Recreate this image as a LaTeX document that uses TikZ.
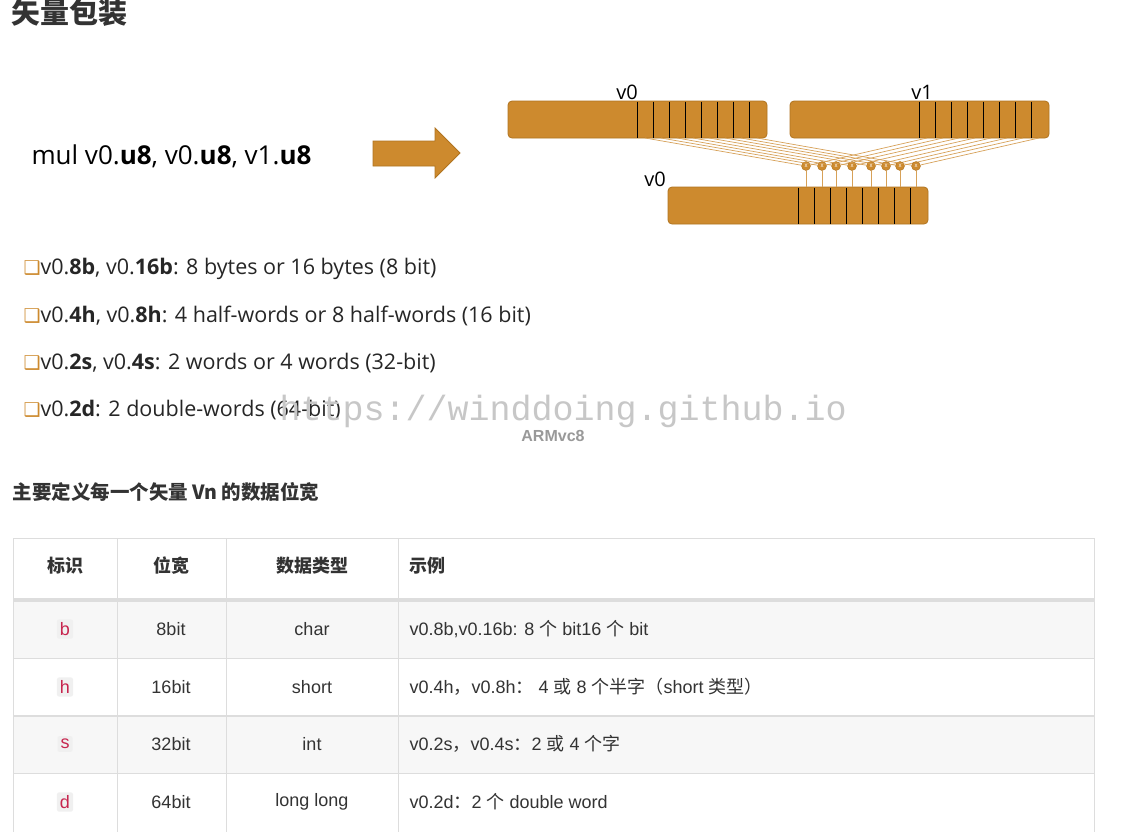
\documentclass[tikz,border=0pt]{standalone}
\usepackage{fontspec}
\setmainfont{Liberation Sans}
\newfontfamily\cjk{Noto Sans CJK SC}
\newfontfamily\carl{Open Sans}
\newfontfamily\djv{DejaVu Sans}
\newfontfamily\monof{Liberation Mono}
\definecolor{reg}{HTML}{CD8A2E}
\definecolor{regb}{HTML}{B07420}
\definecolor{tline}{HTML}{DDDDDD}
\definecolor{txt}{HTML}{333333}
\definecolor{codered}{HTML}{C7254E}
\tikzset{
 regbox/.style={draw=regb,fill=reg,rounded corners=4pt,line width=0.8pt},
 wire/.style={draw=reg!80!white,line width=0.7pt},
 mulc/.style={circle,draw=regb,fill=reg,inner sep=0pt,minimum size=9pt,font=\fontsize{6}{6}\selectfont,text=white},
 cell/.style={text=txt,font=\fontsize{18}{20}\selectfont},
 hcell/.style={text=txt,font=\cjk\bfseries\fontsize{18}{20}\selectfont},
 code/.style={fill=black!6,rounded corners=2pt,text=codered,inner sep=3pt,font=\fontsize{18}{20}\selectfont},
 bul/.style={anchor=west,font=\carl\fontsize{21.5}{26}\selectfont,text=black!85},
}
\begin{document}
\begin{tikzpicture}[x=1pt,y=-1pt]
\useasboundingbox (0,0) rectangle (1128,831);
\fill[white] (0,0) rectangle (1128,831);
% title
\node[anchor=west,font=\cjk\bfseries\fontsize{29}{32}\selectfont,text=txt] (title) at (8,13) {矢量包装};
\node[anchor=west,font=\carl\fontsize{26}{30}\selectfont] (mul) at (28,156) {mul v0.\textbf{u8}, v0.\textbf{u8}, v1.\textbf{u8}};
\draw[regb,fill=reg,line width=0.8pt] (373,141) -- (435,141) -- (435,128) -- (460,153) -- (435,178) -- (435,166) -- (373,166) -- cycle;
% registers
\draw[regbox] (508,101) rectangle (767,138);
\draw[regbox] (790,101) rectangle (1049,138);
\draw[regbox] (668,187) rectangle (928,224);
\foreach \i in {0,...,7}{
 \draw[black,line width=0.9pt] (637+16*\i,101.5) -- (637+16*\i,137.5);
 \draw[black,line width=0.9pt] (919+16*\i,101.5) -- (919+16*\i,137.5);
 \draw[black,line width=0.9pt] (798+16*\i,187.5) -- (798+16*\i,223.5);
}
\foreach \i/\cx in {0/806,1/822,2/836,3/852,4/871,5/886,6/900,7/916}{
 \coordinate (a\i) at (645+16*\i,138);
 \coordinate (b\i) at (927+16*\i,138);
 \coordinate (d\i) at (\cx,187);
 \node[mulc] (m\i) at (\cx,166) {x};
 \draw[wire] (a\i) -- (m\i);
 \draw[wire] (b\i) -- (m\i);
 \draw[wire] (m\i) -- (d\i);
}
\node[font=\carl\fontsize{20}{24}\selectfont,anchor=base] (l0) at (627,99) {v0};
\node[font=\carl\fontsize{20}{24}\selectfont,anchor=base] (l1) at (922,99) {v1};
\node[font=\carl\fontsize{20}{24}\selectfont,anchor=base] (l2) at (655,186) {v0};
% bullets
\foreach \y/\t in {269/{v0.\textbf{8b}, v0.\textbf{16b}: 8 bytes or 16 bytes (8 bit)},
 316/{v0.\textbf{4h}, v0.\textbf{8h}: 4 half-words or 8 half-words (16 bit)},
 363/{v0.\textbf{2s}, v0.\textbf{4s}: 2 words or 4 words (32-bit)},
 410/{v0.\textbf{2d}: 2 double-words (64-bit)}}{
 \node[bul] at (20,\y) {{\djv\color{reg}\fontsize{19}{22}\selectfont ❑}\t};
}
\node[font=\monof\fontsize{35}{38}\selectfont,text=black!22,anchor=west] (wm) at (276,411) {https://winddoing.github.io};
\node[font=\bfseries\fontsize{16}{18}\selectfont,text=black!40] (arm) at (553,436) {ARMvc8};
\node[anchor=west,font=\cjk\bfseries\fontsize{19.5}{22}\selectfont,text=txt] (sub) at (9,492) {主要定义每一个矢量 Vn 的数据位宽};
% table
\fill[black!3] (13,600) rectangle (1094,658);
\fill[black!3] (13,716) rectangle (1094,773);
\draw[tline] (13,538) rectangle (1094,835);
\foreach \y in {658,773} \draw[tline] (13,\y) -- (1094,\y);
\draw[tline,line width=2pt] (13,716) -- (1094,716);
\draw[tline,line width=4pt] (13,600) -- (1094,600);
\foreach \x in {117,226,398} \draw[tline] (\x,538) -- (\x,835);
\node[hcell] (h1) at (65,566) {标识};
\node[hcell] (h2) at (171,566) {位宽};
\node[hcell] (h3) at (312,566) {数据类型};
\node[hcell,anchor=west] (h4) at (406,566) {示例};
\foreach \y/\c/\w/\ty/\e in {629/b/8bit/char/{v0.8b,v0.16b: 8 {\cjk 个} bit16 {\cjk 个} bit},
 687/h/16bit/short/{v0.4h{\cjk ，}v0.8h{\cjk ：} 4 {\cjk 或} 8 {\cjk 个半字（}short {\cjk 类型）}},
 744/s/32bit/int/{v0.2s{\cjk ，}v0.4s{\cjk ：}2 {\cjk 或} 4 {\cjk 个字}},
 802/d/64bit/long long/{v0.2d{\cjk ：}2 {\cjk 个} double word}}{
 \node[code] at (65,\y) {\c};
 \node[cell] at (171,\y) {\w};
 \node[cell] at (312,\y) {\ty};
 \node[cell,anchor=west] at (406,\y) {\e};
}
\end{tikzpicture}
\end{document}
